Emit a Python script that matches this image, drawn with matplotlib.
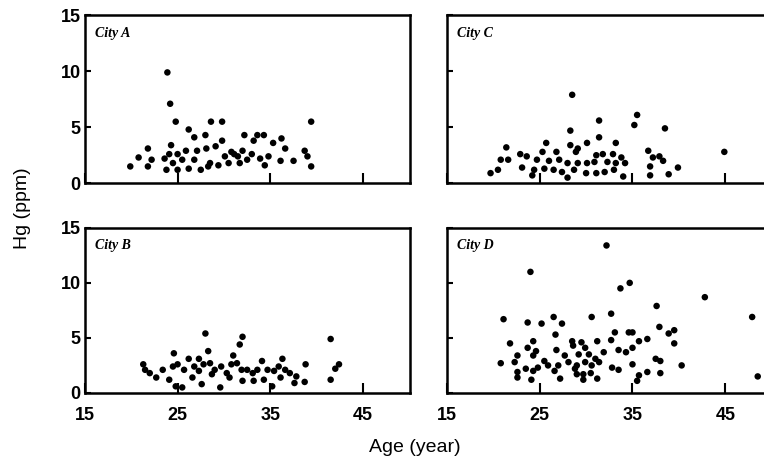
import matplotlib
matplotlib.use('Agg')
import matplotlib.pyplot as plt

plt.rcParams['font.family'] = ['Liberation Sans', 'DejaVu Sans']

# City A
a_age = [23.9, 24.2, 24.8, 26.2, 26.8, 28.0, 28.6, 29.8, 29.8, 29.1, 28.1, 27.1, 24.3, 21.8,
         20.8, 19.9, 21.8, 22.2, 23.6, 24.1, 25.0, 23.8, 24.5, 25.5, 26.2, 26.8, 27.5, 28.5,
         29.4, 30.5, 30.8, 31.5, 32.2, 32.0, 32.5, 33.2, 33.6, 34.3, 33.9, 34.4, 34.8, 35.3,
         36.2, 36.6, 36.1, 37.5, 38.7, 39.0, 39.4, 39.4, 33.0, 30.1, 31.1, 25.9, 28.3, 25.0, 31.7]
a_hg = [9.9, 7.1, 5.5, 4.8, 4.1, 4.3, 5.5, 5.5, 3.8, 3.3, 3.1, 2.9, 3.4, 3.1,
        2.3, 1.5, 1.5, 2.1, 2.2, 2.6, 2.6, 1.2, 1.8, 2.1, 1.3, 2.1, 1.2, 1.8,
        1.6, 1.8, 2.8, 2.4, 4.3, 2.9, 2.1, 3.8, 4.3, 4.3, 2.2, 1.6, 2.4, 3.6,
        4.0, 3.1, 2.0, 2.0, 2.9, 2.4, 5.5, 1.5, 2.6, 2.4, 2.6, 2.9, 1.5, 1.2, 1.8]

# City C
c_age = [28.5, 31.4, 35.5, 35.2, 38.5, 28.3, 31.4, 30.1, 33.2, 25.7, 28.3, 21.4, 44.9, 28.9,
         36.7, 31.8, 31.1, 32.9, 22.9, 23.6, 25.3, 26.8, 33.8, 34.2, 37.2, 37.9, 38.3, 20.8,
         21.6, 24.7, 26.0, 27.1, 28.0, 29.1, 30.1, 30.9, 32.3, 33.2, 36.9, 39.9, 23.1, 24.4,
         25.5, 26.5, 27.4, 28.7, 30.0, 31.1, 32.0, 33.0, 19.7, 20.5, 24.2, 28.0, 34.0, 36.9,
         38.9, 29.1]
c_hg = [7.9, 5.6, 6.1, 5.2, 4.9, 4.7, 4.1, 3.6, 3.6, 3.6, 3.4, 3.2, 2.8, 2.8,
        2.9, 2.6, 2.5, 2.6, 2.6, 2.4, 2.8, 2.8, 2.3, 1.8, 2.3, 2.4, 2.0, 2.1,
        2.1, 2.1, 2.0, 2.1, 1.8, 1.8, 1.8, 1.9, 1.9, 1.8, 1.5, 1.4, 1.4, 1.2,
        1.3, 1.2, 1.0, 1.2, 0.9, 0.9, 1.0, 1.2, 0.9, 1.2, 0.7, 0.5, 0.6, 0.7,
        0.8, 3.1]

# City B
b_age = [28.0, 32.0, 31.7, 41.5, 24.6, 28.3, 31.0, 26.2, 34.1, 36.3, 38.8, 42.4, 42.0, 21.3,
         21.5, 22.0, 23.4, 24.5, 25.0, 25.7, 26.8, 27.3, 27.8, 28.5, 29.0, 29.7, 30.3, 30.8,
         31.4, 31.9, 32.5, 33.1, 33.6, 34.7, 35.4, 35.9, 36.6, 37.1, 37.8, 38.7, 41.5, 22.7,
         24.1, 24.8, 25.5, 26.6, 27.6, 28.7, 29.6, 30.6, 32.0, 33.2, 34.3, 35.2, 36.1, 37.6, 27.3]
b_hg = [5.4, 5.1, 4.4, 4.9, 3.6, 3.8, 3.4, 3.1, 2.9, 3.1, 2.6, 2.6, 2.2, 2.6,
        2.1, 1.8, 2.1, 2.4, 2.6, 2.1, 2.4, 2.0, 2.6, 2.7, 2.1, 2.4, 1.8, 2.6,
        2.7, 2.1, 2.1, 1.8, 2.1, 2.1, 2.0, 2.4, 2.1, 1.8, 1.5, 1.0, 1.2, 1.4,
        1.2, 0.6, 0.5, 1.4, 0.8, 1.7, 0.5, 1.4, 1.1, 1.1, 1.2, 0.6, 1.4, 0.9, 3.1]

# City D
d_age = [32.2, 24.0, 34.7, 33.7, 42.8, 37.6, 47.9, 21.1, 26.5, 30.6, 32.7, 23.7, 25.2, 27.4,
         37.9, 39.5, 38.9, 33.1, 34.6, 35.0, 26.7, 36.6, 24.3, 28.5, 29.5, 31.2, 32.7, 35.7,
         39.5, 21.8, 23.7, 24.6, 26.8, 28.6, 29.9, 31.9, 33.5, 34.3, 35.0, 22.6, 24.3, 25.5,
         27.7, 29.2, 30.3, 31.0, 37.5, 38.0, 20.8, 22.3, 23.5, 24.8, 25.9, 27.0, 28.1, 29.0,
         29.9, 30.6, 31.4, 35.0, 40.3, 22.6, 24.3, 26.6, 28.8, 29.7, 32.8, 33.5, 36.6, 38.0,
         22.6, 24.1, 27.2, 29.7, 31.2, 35.7, 35.5, 48.5, 29.0, 30.5]
d_hg = [13.4, 11.0, 10.0, 9.5, 8.7, 7.9, 6.9, 6.7, 6.9, 6.9, 7.2, 6.4, 6.3, 6.3,
        6.0, 5.7, 5.4, 5.5, 5.5, 5.5, 5.3, 4.9, 4.7, 4.7, 4.6, 4.7, 4.8, 4.7,
        4.5, 4.5, 4.1, 3.8, 3.9, 4.3, 4.1, 3.7, 3.9, 3.7, 4.1, 3.4, 3.4, 2.9,
        3.4, 3.5, 3.5, 3.1, 3.1, 2.9, 2.7, 2.8, 2.2, 2.3, 2.5, 2.5, 2.8, 2.5,
        2.8, 2.5, 2.8, 2.6, 2.5, 1.9, 2.0, 2.0, 2.2, 1.7, 2.3, 2.1, 1.9, 1.8,
        1.4, 1.2, 1.3, 1.2, 1.3, 1.6, 1.1, 1.5, 1.7, 1.8]

x_ticks = [15, 25, 35, 45]
y_ticks = [0, 5, 10, 15]

fig = plt.figure(figsize=(7.64, 4.65), dpi=100)

panels = [
    ('City A', a_age, a_hg, [0.111, 0.606, 0.425, 0.361], True, False),
    ('City C', c_age, c_hg, [0.585, 0.606, 0.425, 0.361], False, False),
    ('City B', b_age, b_hg, [0.111, 0.155, 0.425, 0.355], True, True),
    ('City D', d_age, d_hg, [0.585, 0.155, 0.425, 0.355], False, True),
]

for name, xs, ys, pos, ylab, xlab in panels:
    ax = fig.add_axes(pos)
    ax.scatter(xs, ys, s=22, c='black', edgecolors='none', zorder=3)
    ax.set_xlim(15, 50)
    ax.set_ylim(0, 15)
    ax.set_xticks(x_ticks)
    ax.set_yticks(y_ticks)
    ax.tick_params(direction='in', width=1.5)
    ax.tick_params(axis='x', length=7, pad=10)
    ax.tick_params(axis='y', length=4, pad=3)
    for lbl in ax.get_xticklabels() + ax.get_yticklabels():
        lbl.set_fontsize(13)
        lbl.set_fontweight('bold')
    if not ylab:
        ax.set_yticklabels([])
    if not xlab:
        ax.set_xticklabels([])
    for sp in ax.spines.values():
        sp.set_linewidth(1.8)
    ax.text(0.03, 0.93, name, transform=ax.transAxes, ha='left', va='top',
            fontsize=10, fontstyle='italic', fontweight='bold', family='Liberation Serif')

fig.text(0.03, 0.553, 'Hg (ppm)', rotation=90, ha='center', va='center', fontsize=14)
fig.text(0.543, 0.038, 'Age (year)', ha='center', va='center', fontsize=14)

fig.savefig('out.png', dpi=100)
